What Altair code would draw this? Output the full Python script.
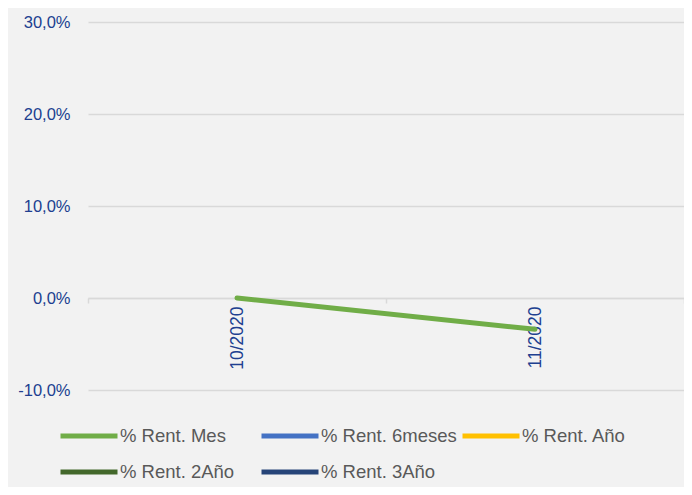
import altair as alt
import pandas as pd

categories = ["10/2020", "11/2020"]
rent_mes = [0.0, -0.034]
series_names = ["% Rent. Mes", "% Rent. 6meses", "% Rent. Año", "% Rent. 2Año", "% Rent. 3Año"]
series_colors = ["#70AD47", "#4472C4", "#FFC000", "#43682B", "#264478"]
y_ticks = [-0.1, 0.0, 0.1, 0.2, 0.3]

df = pd.DataFrame({
    "fecha": categories,
    "valor": rent_mes,
    "serie": [series_names[0]] * len(categories),
})

H = 368
W = 596
tick_color = "#203F90"
grid_color = "#D9D9D9"

chart = alt.Chart(df).mark_line(strokeWidth=5, strokeCap="round").encode(
    x=alt.X(
        "fecha:N",
        sort=categories,
        scale=alt.Scale(type="band", paddingInner=0, paddingOuter=0),
        axis=alt.Axis(
            title=None,
            orient="bottom",
            offset=-H * 0.25,
            labelAngle=-90,
            labelPadding=3,
            labelFont="Liberation Sans",
            labelFontSize=17.5,
            labelColor=tick_color,
            domainColor=grid_color,
            domainWidth=1.5,
            ticks=True,
            tickBand="extent",
            tickSize=5,
            tickColor=grid_color,
            tickWidth=1.5,
            grid=False,
        ),
    ),
    y=alt.Y(
        "valor:Q",
        scale=alt.Scale(domain=[-0.1, 0.3], nice=False, zero=False),
        axis=alt.Axis(
            title=None,
            values=y_ticks,
            labelExpr="replace(replace(format(datum.value, '.1%'), '.', ','), '\u2212', '-')",
            labelFont="Liberation Sans",
            labelFontSize=16.5,
            labelColor=tick_color,
            labelPadding=18,
            domain=False,
            ticks=False,
            grid=True,
            gridColor=grid_color,
            gridWidth=1.5,
        ),
    ),
    color=alt.Color(
        "serie:N",
        scale=alt.Scale(domain=series_names, range=series_colors),
        legend=alt.Legend(
            title=None,
            orient="none",
            legendX=-11,
            legendY=402,
            direction="horizontal",
            columns=3,
            gridAlign="all",
            columnPadding=-5,
            rowPadding=14,
            padding=0,
            symbolType="M-3,0H3",
            symbolSize=361,
            symbolStrokeWidth=5,
            labelFont="Liberation Sans",
            labelFontSize=18.5,
            labelColor="#595959",
            labelOffset=19,
            labelLimit=300,
        ),
    ),
).properties(
    width=W,
    height=H,
    background="#F2F2F2",
    autosize=alt.AutoSizeParams(type="none"),
    padding={"left": 80, "top": 14, "right": 0, "bottom": 97},
).configure_view(stroke=None)

chart.save("out.html", embed_options={"renderer": "svg", "actions": False})
